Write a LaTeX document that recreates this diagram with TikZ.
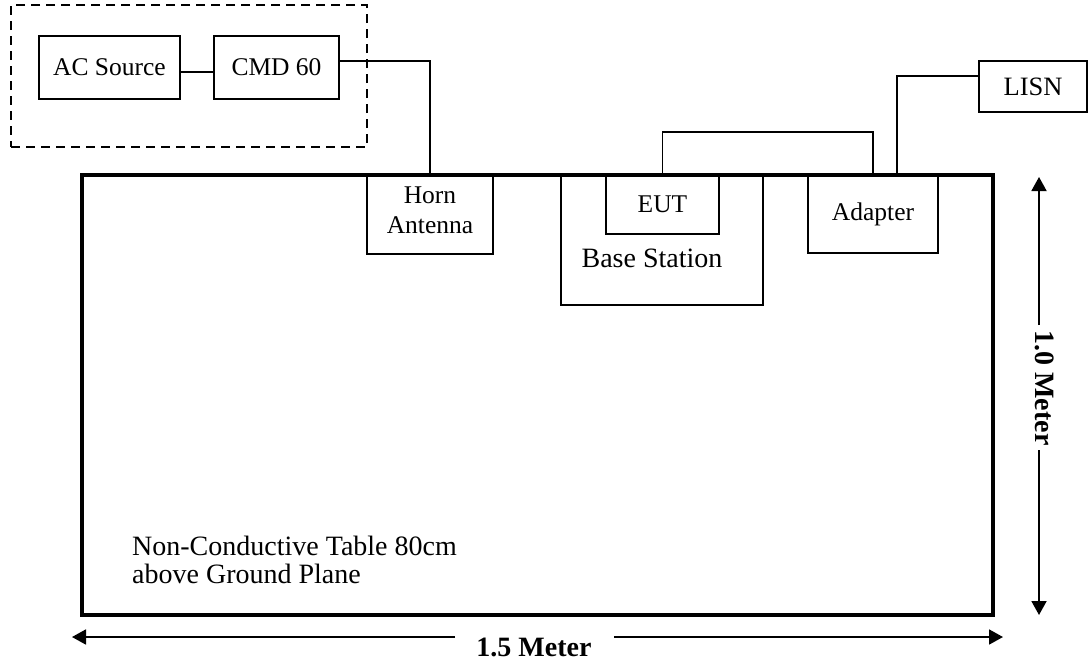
\documentclass[tikz,border=0pt]{standalone}
\usepackage{fontspec}
\setmainfont{Liberation Serif}
\usetikzlibrary{arrows.meta}
\begin{document}
\begin{tikzpicture}[x=1pt,y=-1pt,
  box/.style={draw, line width=1.6pt, inner sep=0pt, outer sep=0pt, anchor=north west, font=\fontsize{25.5}{28}\selectfont},
  wire/.style={line width=1.6pt},
  dimline/.style={line width=1.8pt},
  tip/.style={-{Triangle[length=14pt,width=15pt]}},
  lbl/.style={inner sep=0pt, font=\fontsize{25.5}{30}\selectfont},
  dimlbl/.style={inner sep=0pt, font=\fontsize{28}{30}\selectfont\bfseries}]
\useasboundingbox (0,0) rectangle (1090,665);
% group
\node[draw, dash pattern=on 9pt off 6pt, line width=1.6pt, inner sep=0pt, outer sep=0pt, minimum width=356pt, minimum height=142pt, anchor=north west] (grp) at (11,5) {};
\node[box, minimum width=141pt, minimum height=63pt] (ac) at (39,36) {AC Source};
\node[box, minimum width=125pt, minimum height=63pt] (cmd) at (214,36) {CMD 60};
% table
\node[draw, line width=3.5pt, inner sep=0pt, outer sep=0pt, minimum width=911pt, minimum height=440pt, anchor=north west] (table) at (82,175) {};
\node[inner sep=0pt, anchor=north west, align=left, font=\fontsize{28}{28}\selectfont] (tabletext) at (132,536) {Non-Conductive Table 80cm\\above Ground Plane};
% devices
\node[box, minimum width=126pt, minimum height=79pt] (horn) at (367,175) {};
\node[lbl, align=center] (hornt) at (430,210) {Horn\\Antenna};
\node[box, minimum width=202pt, minimum height=130pt] (bs) at (561,175) {};
\node[lbl, font=\fontsize{28}{30}\selectfont] (bst) at (652,258) {Base Station};
\node[box, minimum width=113pt, minimum height=59pt] (eut) at (606,175) {EUT};
\node[box, minimum width=130pt, minimum height=78pt] (adp) at (808,175) {Adapter};
\node[box, minimum width=108pt, minimum height=51pt, font=\fontsize{26.5}{28}\selectfont] (lisn) at (979,61) {LISN};
% wires
\draw[wire] (ac.east |- 0,72) -- (cmd.west |- 0,72);
\draw[wire] (cmd.east |- 0,61) -| (horn.north);
\draw[wire] (eut.north) -- ++(0,-43) -| (adp.north);
\draw[wire] (adp.north -| 897,0) |- (lisn.west |- 0,76);
% dimensions
\node[dimlbl] (w) at (534,647) {1.5 Meter};
\coordinate (hl) at (72,637);
\coordinate (hr) at (1003,637);
\coordinate (hgl) at (455,637);
\coordinate (hgr) at (614,637);
\draw[dimline, tip] (hgl) -- (hl);
\draw[dimline, tip] (hgr) -- (hr);
\node[dimlbl, rotate=-90] (h) at (1045,388) {1.0 Meter};
\coordinate (vt) at (1039,177);
\coordinate (vb) at (1039,615);
\coordinate (vgt) at (1039,325);
\coordinate (vgb) at (1039,450);
\draw[dimline, tip] (vgt) -- (vt);
\draw[dimline, tip] (vgb) -- (vb);
\end{tikzpicture}
\end{document}
